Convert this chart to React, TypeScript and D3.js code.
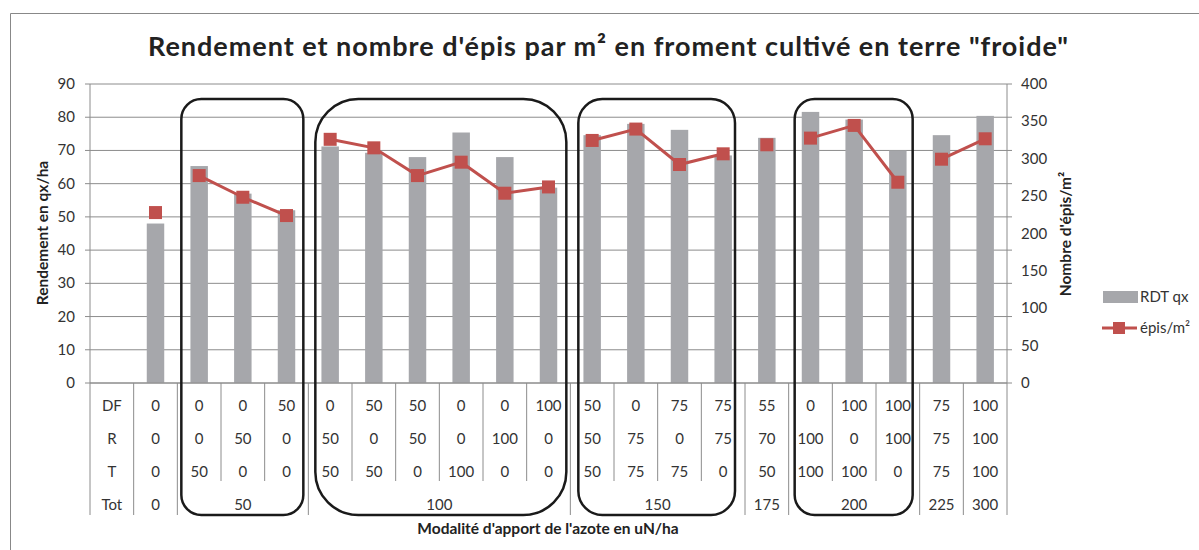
import React from "react";
import * as d3 from "d3";

// treatment table (units N/ha) - one entry per bar
const doseDF = [0, 0, 0, 50, 0, 50, 50, 0, 0, 100, 50, 0, 75, 75, 55, 0, 100, 100, 75, 100];
const doseR = [0, 0, 50, 0, 50, 0, 50, 0, 100, 0, 50, 75, 0, 75, 70, 100, 0, 100, 75, 100];
const doseT = [0, 50, 0, 0, 50, 50, 0, 100, 0, 0, 50, 75, 75, 0, 50, 100, 100, 0, 75, 100];
const rowLabels = ["DF", "R", "T", "Tot"];

// series
const rdtQx = [48, 65.3, 57, 52, 71.2, 69.3, 68, 75.4, 68, 58.8, 74.6, 78, 76.2, 68.5, 73.8, 81.6, 79.3, 70, 74.6, 80.4];
const episM2 = [228, 277.5, 248.5, 224, 326, 314.6, 277.5, 295.4, 253.9, 262.3, 324.5, 339.7, 292.3, 306.6, 318.7, 327.6, 344.6, 268.6, 299.4, 326.7];
// which points are joined by the line
const lineSegment = [0, 1, 1, 1, 2, 2, 2, 2, 2, 2, 3, 3, 3, 3, 4, 5, 5, 5, 6, 6];

const leftTicks = [0, 10, 20, 30, 40, 50, 60, 70, 80, 90];
const rightTicks = [0, 50, 100, 150, 200, 250, 300, 350, 400];

// hand drawn boxes around groups of equal total
const circled = [
  { tot: 50, rx: 20, padL: 4, padR: 5 },
  { tot: 100, rx: 43, padL: 7, padR: 4 },
  { tot: 150, rx: 24, padL: 8, padR: 10 },
  { tot: 200, rx: 20, padL: 6, padR: 7 },
];

const width = 1199;
const height = 550;
const left = 90;
const right = 1007;
const top = 84;
const bottom = 383;

const font = "Lato, 'Open Sans', sans-serif";
const barColor = "#a6a7ab";
const red = "#c0504d";
const gridColor = "#8c8c8c";
const textColor = "#333";

const totals = doseDF.map((d, i) => d + doseR[i] + doseT[i]);
const groups: { tot: number; start: number; end: number }[] = [];
totals.forEach((t, i) => {
  const g = groups[groups.length - 1];
  if (g && g.tot === t) g.end = i;
  else groups.push({ tot: t, start: i, end: i });
});

const x = d3.scaleBand<number>().domain(d3.range(totals.length + 1)).range([left, right]);
const bw = x.bandwidth();
const cx = (i: number) => (x(i + 1) as number) + bw / 2;
const yL = d3.scaleLinear().domain([0, 90]).range([bottom, top]);
const yR = d3.scaleLinear().domain([0, 400]).range([bottom, top]);

const rowY = [406, 439, 472, 505];
const shortBottom = 481;
const fullBottom = 515;

const line = d3
  .line<number>()
  .x((i) => cx(i))
  .y((i) => yR(episM2[i]));

const App = () => {
  const segments = d3.groups(d3.range(episM2.length), (i) => lineSegment[i]);
  const rows = [doseDF, doseR, doseT];
  return (
    <svg
      width={width}
      height={height}
      style={{ position: "absolute", left: 0, top: 0, background: "#fff" }}
      fontFamily={font}
    >
      {/* chart area border */}
      <path d={`M10.5,${height} V13.5 H${width}`} fill="none" stroke="#888" strokeWidth={1} />

      <text
        x={608}
        y={56}
        textAnchor="middle"
        fontSize={27}
        fontWeight="bold"
        fill="#222"
        textLength={920}
        lengthAdjust="spacing"
      >
        Rendement et nombre d'épis par m² en froment cultivé en terre "froide"
      </text>

      {/* gridlines */}
      {leftTicks.map((t) => (
        <line key={t} x1={left - 5} x2={right + 5} y1={yL(t)} y2={yL(t)} stroke={gridColor} strokeWidth={1} />
      ))}
      {leftTicks.map((t) => (
        <text key={t} x={75} y={yL(t) + 5} textAnchor="end" fontSize={15} fill={textColor}>
          {t}
        </text>
      ))}
      {rightTicks.map((t) => (
        <text key={t} x={1021} y={yR(t) + 5} fontSize={15} fill={textColor}>
          {t}
        </text>
      ))}

      {/* bars */}
      {rdtQx.map((v, i) => (
        <rect
          key={i}
          x={cx(i) - bw * 0.2}
          width={bw * 0.4}
          y={yL(v)}
          height={bottom - yL(v)}
          fill={barColor}
        />
      ))}

      {/* table verticals */}
      {d3.range(totals.length + 2).map((k) => {
        const full = k <= 1 || k === totals.length + 1 || totals[k - 2] !== totals[k - 1];
        const xx = left + k * bw;
        return (
          <line
            key={k}
            x1={xx}
            x2={xx}
            y1={k === 0 || k === totals.length + 1 ? top : bottom}
            y2={full ? fullBottom : shortBottom}
            stroke={gridColor}
            strokeWidth={1}
          />
        );
      })}
      <line x1={left} x2={right} y1={bottom} y2={bottom} stroke={gridColor} strokeWidth={1.2} />

      {/* table text */}
      {rowLabels.map((r, j) => (
        <text key={r} x={(x(0) as number) + bw / 2} y={rowY[j] + 5} textAnchor="middle" fontSize={15} fill={textColor}>
          {r}
        </text>
      ))}
      {rows.map((row, j) =>
        row.map((v, i) => (
          <text key={`${j}-${i}`} x={cx(i)} y={rowY[j] + 5} textAnchor="middle" fontSize={15} fill={textColor}>
            {v}
          </text>
        ))
      )}
      {groups.map((g) => (
        <text
          key={g.tot}
          x={(cx(g.start) + cx(g.end)) / 2}
          y={rowY[3] + 5}
          textAnchor="middle"
          fontSize={15}
          fill={textColor}
        >
          {g.tot}
        </text>
      ))}

      {/* épis line */}
      {segments.map(([k, idx]) => (
        <path key={k} d={line(idx) || ""} fill="none" stroke={red} strokeWidth={3} />
      ))}
      {episM2.map((v, i) => (
        <rect key={i} x={cx(i) - 6.5} y={yR(v) - 6.5} width={13} height={13} fill={red} />
      ))}

      {/* group boxes */}
      {circled.map((c) => {
        const g = groups.find((d) => d.tot === c.tot)!;
        const x0 = (x(g.start + 1) as number) + c.padL;
        const x1 = (x(g.end + 1) as number) + bw - c.padR;
        return (
          <rect
            key={c.tot}
            x={x0}
            y={99}
            width={x1 - x0}
            height={fullBottom - 99}
            rx={c.rx}
            ry={c.rx}
            fill="none"
            stroke="#1a1a1a"
            strokeWidth={2.5}
          />
        );
      })}

      {/* axis titles */}
      <text
        transform={`translate(48,233) rotate(-90)`}
        textAnchor="middle"
        fontSize={15.5}
        fontWeight="bold"
        fill="#222"
      >
        Rendement en qx/ha
      </text>
      <text
        transform={`translate(1071,234) rotate(-90)`}
        textAnchor="middle"
        fontSize={15.5}
        fontWeight="bold"
        fill="#222"
      >
        Nombre d'épis/m²
      </text>
      <text x={548} y={534} textAnchor="middle" fontSize={15.5} fontWeight="bold" fill="#222">
        Modalité d'apport de l'azote en uN/ha
      </text>

      {/* legend */}
      <rect x={1103} y={291} width={35} height={12} fill={barColor} />
      <text x={1140} y={302} fontSize={15} fill={textColor}>
        RDT qx
      </text>
      <line x1={1102} x2={1137} y1={328} y2={328} stroke={red} strokeWidth={3} />
      <rect x={1113} y={322} width={12} height={12} fill={red} />
      <text x={1140} y={333} fontSize={15} fill={textColor}>
        épis/m²
      </text>
    </svg>
  );
};

export default App;
